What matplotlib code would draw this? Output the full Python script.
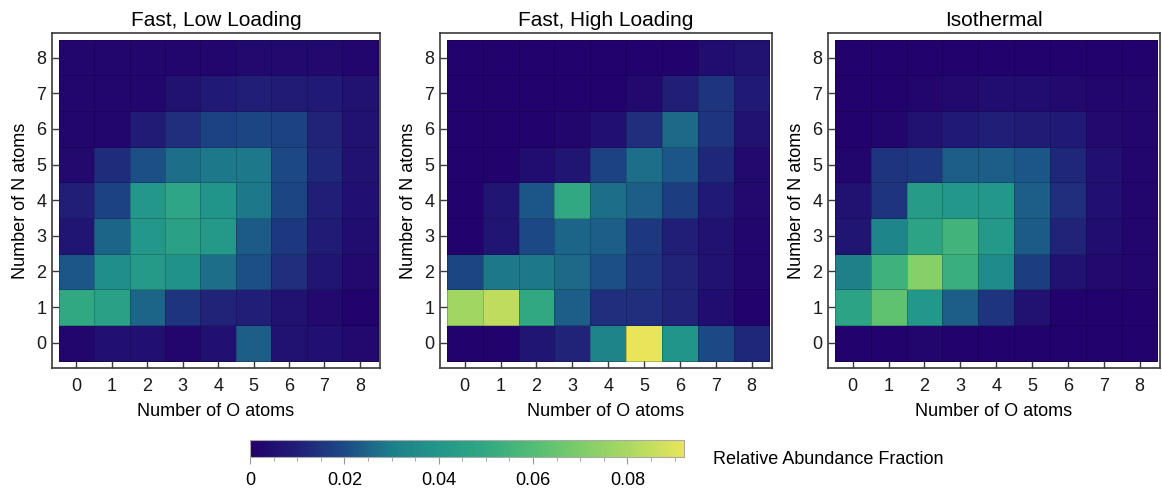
import numpy as np
import matplotlib
matplotlib.use("Agg")
import matplotlib.pyplot as plt
from matplotlib.colors import LinearSegmentedColormap, Normalize
from matplotlib.cm import ScalarMappable
from matplotlib.ticker import MultipleLocator

plt.rcParams["font.family"] = ["Liberation Sans", "DejaVu Sans"]

# ---- data: rows are N atoms 0..8, columns are O atoms 0..8 ----
n_atoms = list(range(9))
o_atoms = list(range(9))

fast_low = [
    [0.002, 0.005, 0.005, 0.002, 0.005, 0.024, 0.006, 0.005, 0.003],  # N=0
    [0.050, 0.045, 0.025, 0.015, 0.011, 0.010, 0.006, 0.003, 0.001],  # N=1
    [0.022, 0.036, 0.042, 0.038, 0.027, 0.021, 0.014, 0.007, 0.003],  # N=2
    [0.007, 0.025, 0.040, 0.045, 0.041, 0.023, 0.016, 0.009, 0.004],  # N=3
    [0.010, 0.018, 0.040, 0.048, 0.039, 0.029, 0.019, 0.010, 0.005],  # N=4
    [0.003, 0.013, 0.021, 0.027, 0.029, 0.029, 0.020, 0.012, 0.006],  # N=5
    [0.002, 0.002, 0.009, 0.014, 0.018, 0.019, 0.018, 0.011, 0.006],  # N=6
    [0.002, 0.002, 0.002, 0.006, 0.008, 0.010, 0.009, 0.008, 0.006],  # N=7
    [0.002, 0.002, 0.002, 0.002, 0.002, 0.003, 0.003, 0.003, 0.002],  # N=8
]

fast_high = [
    [0.001, 0.001, 0.007, 0.011, 0.032, 0.092, 0.039, 0.020, 0.012],
    [0.078, 0.084, 0.050, 0.024, 0.014, 0.014, 0.011, 0.004, 0.001],
    [0.019, 0.029, 0.029, 0.026, 0.021, 0.015, 0.011, 0.006, 0.002],
    [0.001, 0.007, 0.020, 0.025, 0.024, 0.016, 0.010, 0.006, 0.002],
    [0.001, 0.007, 0.022, 0.050, 0.027, 0.024, 0.017, 0.008, 0.003],
    [0.001, 0.001, 0.004, 0.007, 0.018, 0.027, 0.022, 0.012, 0.003],
    [0.001, 0.001, 0.001, 0.002, 0.005, 0.014, 0.026, 0.015, 0.006],
    [0.001, 0.001, 0.001, 0.001, 0.001, 0.003, 0.010, 0.015, 0.008],
    [0.001, 0.001, 0.001, 0.001, 0.001, 0.001, 0.001, 0.004, 0.006],
]

isothermal = [
    [0.001, 0.001, 0.002, 0.001, 0.001, 0.001, 0.001, 0.001, 0.001],
    [0.047, 0.063, 0.040, 0.024, 0.015, 0.006, 0.001, 0.001, 0.001],
    [0.031, 0.054, 0.072, 0.053, 0.035, 0.017, 0.006, 0.003, 0.002],
    [0.007, 0.033, 0.047, 0.055, 0.041, 0.023, 0.011, 0.004, 0.002],
    [0.006, 0.015, 0.043, 0.040, 0.040, 0.024, 0.014, 0.005, 0.002],
    [0.002, 0.015, 0.016, 0.024, 0.024, 0.022, 0.012, 0.005, 0.002],
    [0.001, 0.002, 0.006, 0.008, 0.010, 0.009, 0.008, 0.003, 0.002],
    [0.001, 0.001, 0.002, 0.003, 0.004, 0.004, 0.003, 0.002, 0.002],
    [0.001, 0.001, 0.001, 0.001, 0.001, 0.001, 0.001, 0.001, 0.001],
]

titles = ["Fast, Low Loading", "Fast, High Loading", "Isothermal"]
cbar_ticks = [0, 0.02, 0.04, 0.06, 0.08]

VMAX = 0.092

# blue -> green -> yellow ramp
stops = [
    (0.000, "#22006b"),
    (0.010, "#201f77"),
    (0.020, "#1c4a86"),
    (0.030, "#1d7f8a"),
    (0.040, "#22978a"),
    (0.050, "#31a882"),
    (0.060, "#52bd74"),
    (0.070, "#7dcc6a"),
    (0.080, "#aad862"),
    (0.092, "#e8e55a"),
]
cmap = LinearSegmentedColormap.from_list(
    "bgy", [(v / VMAX, c) for v, c in stops])
norm = Normalize(vmin=0, vmax=VMAX)

fig = plt.figure(figsize=(11.62, 4.91), dpi=100)

lefts = [52, 440, 828]
widths = [328, 332, 332]
frame_col = "#3a3a3a"

for left, width, title, grid in zip(lefts, widths, titles,
                                    [fast_low, fast_high, isothermal]):
    ax = fig.add_axes([left / 1162, 1 - 368 / 491, width / 1162, 335 / 491])
    data = np.array(grid)
    edges_x = np.arange(len(o_atoms) + 1) - 0.5
    edges_y = np.arange(len(n_atoms) + 1) - 0.5
    ax.pcolormesh(edges_x, edges_y, data, cmap=cmap, norm=norm,
                  edgecolors=(0, 0, 0, 0.2), linewidth=0.6)
    ax.set_xlim(-0.69, 8.57)
    ax.set_ylim(-0.71, 8.69)
    ax.set_xticks(o_atoms)
    ax.set_yticks(n_atoms)
    ax.tick_params(direction="in", length=5, width=1, color=frame_col,
                   labelsize=13, labelcolor="#1a1a1a")
    ax.tick_params(axis="x", pad=7)
    ax.tick_params(axis="y", pad=4)
    for sp in ax.spines.values():
        sp.set_color(frame_col)
        sp.set_linewidth(1.2)
    ax.set_title(title, fontsize=15, pad=5)
    ax.set_xlabel("Number of O atoms", fontsize=13, labelpad=6)
    ax.set_ylabel("Number of N atoms", fontsize=13, labelpad=5)

# horizontal colorbar along the bottom
cax = fig.add_axes([250 / 1162, 1 - 457 / 491, 434 / 1162, 17 / 491])
cb = fig.colorbar(ScalarMappable(norm=norm, cmap=cmap), cax=cax,
                  orientation="horizontal")
cb.set_ticks(cbar_ticks)
cb.set_ticklabels(["0", "0.02", "0.04", "0.06", "0.08"])
cax.xaxis.set_minor_locator(MultipleLocator(0.005))
cax.tick_params(which="major", length=5, width=0.8, color="#999999",
                labelsize=13, pad=6)
cax.tick_params(which="minor", length=3, width=0.6, color="#999999")
cb.outline.set_edgecolor("#aaaaaa")
cb.outline.set_linewidth(0.8)

fig.text(713 / 1162, 1 - 460 / 491, "Relative Abundance Fraction",
         fontsize=13, ha="left", va="center")

fig.savefig("out.png", dpi=100)
